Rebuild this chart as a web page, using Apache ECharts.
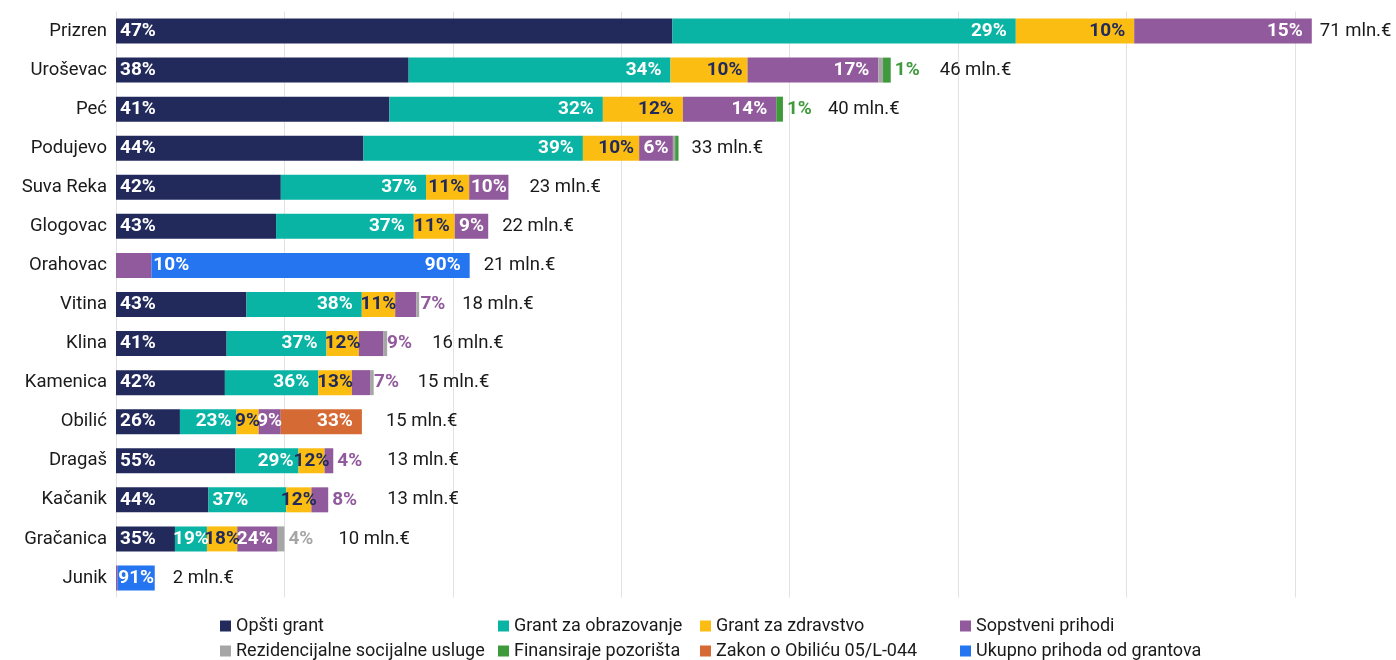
<!DOCTYPE html>
<html>
<head>
<meta charset="utf-8">
<script src="https://cdn.jsdelivr.net/npm/echarts@6/dist/echarts.min.js"></script>
<style>
html,body{margin:0;padding:0;background:#fff;}
#chart{width:1396px;height:660px;}
</style>
</head>
<body>
<div id="chart"></div>
<script>
// ---- DATA ----
const categories = ['Prizren','Uroševac','Peć','Podujevo','Suva Reka','Glogovac','Orahovac','Vitina','Klina','Kamenica','Obilić','Dragaš','Kačanik','Gračanica','Junik'];
const totals = [71.0, 46.0, 39.6, 33.4, 23.3, 22.1, 21.0, 18.0, 16.1, 15.3, 14.6, 12.9, 12.6, 10.0, 2.3]; // mln €
// shares in percent
const opstiGrant       = [47, 38, 41, 44, 42, 43, null, 43, 41, 42, 26, 55, 44, 35, null];
const grantObrazovanje = [29, 34, 32, 39, 37, 37, null, 38, 37, 36, 23, 29, 37, 19, null];
const grantZdravstvo   = [10, 10, 12, 10, 11, 11, null, 11, 12, 13, 9, 12, 12, 18, null];
const sopstveniPrihodi = [15, 17, 14, 6, 10, 9, 10, 7, 9, 7, 9, 4, 8, 24, 4];
const rezidencijalne   = [null, 0.6, null, 0.4, null, null, null, 0.9, 1.5, 1.4, null, null, null, 4, null];
const pozoriste        = [null, 1, 1, 0.6, null, null, null, null, null, null, null, null, null, null, null];
const zakonObilic      = [null, null, null, null, null, null, null, null, null, null, 33, null, null, null, null];
const ukupnoGrantovi   = [null, null, null, null, null, null, 90, null, null, null, null, null, null, null, 91];

// ---- STYLE ----
const seriesDefs = [
  {key:'opsti',  name:'Opšti grant',                  data:opstiGrant,       color:'#222a5c', text:'#ffffff', pos:'insideLeft'},
  {key:'obraz',  name:'Grant za obrazovanje',         data:grantObrazovanje, color:'#0ab4a4', text:'#ffffff', pos:'insideRight'},
  {key:'zdrav',  name:'Grant za zdravstvo',           data:grantZdravstvo,   color:'#fcbd12', text:'#222a5c', pos:'insideRight'},
  {key:'sopst',  name:'Sopstveni prihodi',            data:sopstveniPrihodi, color:'#915a9c', text:'#ffffff', pos:'insideRight'},
  {key:'rezid',  name:'Rezidencijalne socijalne usluge', data:rezidencijalne, color:'#a6a6a6', text:'#ffffff', pos:'insideRight'},
  {key:'pozor',  name:'Finansiraje pozorišta',        data:pozoriste,        color:'#3f9a3c', text:'#ffffff', pos:'insideRight'},
  {key:'obilic', name:'Zakon o Obiliću 05/L-044',     data:zakonObilic,      color:'#d66a34', text:'#ffffff', pos:'insideRight'},
  {key:'ukupno', name:'Ukupno prihoda od grantova',   data:ukupnoGrantovi,   color:'#2675f0', text:'#ffffff', pos:'insideRight'}
];
const labelOverrides = {
  'pozor|1':'out','pozor|2':'out','pozor|3':'hide',
  'rezid|1':'hide','rezid|3':'hide','rezid|7':'hide','rezid|8':'hide','rezid|9':'hide','rezid|13':'out',
  'sopst|6':'rightWhite','sopst|7':'out','sopst|8':'out','sopst|9':'out','sopst|11':'out','sopst|12':'out','sopst|14':'hide',
  'obraz|12':'insideLeft'
};
const totalGap = [8, 49, 45, 13, 21, 14, 14, 43, 45, 44, 24, 54, 59, 54, 18];
const axisMax = 76;
const plotWidth = 1281;
const pxPerMln = plotWidth / axisMax;

const pctFont = 'Roboto';
const txtFont = 'Roboto';

const rowSums = categories.map((c, i) => seriesDefs.reduce((s, d) => s + (d.data[i] || 0), 0));

const series = seriesDefs.map(d => ({
  name: d.name,
  type: 'bar',
  stack: 'total',
  barWidth: 25,
  itemStyle: {color: d.color},
  emphasis: {disabled: true},
  data: d.data.map((p, i) => {
    if (p == null) return {value: 0, pct: null, label: {show: false}};
    const v = totals[i] * p / rowSums[i];
    const w = v * pxPerMln;
    const mode = labelOverrides[d.key + '|' + i] || 'default';
    let label;
    if (mode === 'hide') label = {show: false};
    else if (mode === 'out') label = {show: true, position: 'right', distance: 4, color: d.color};
    else if (mode === 'rightWhite') label = {show: true, position: 'right', distance: 2, color: '#ffffff'};
    else if (mode === 'insideLeft') label = {show: true, position: 'insideLeft', distance: 4, color: d.text};
    else if (w < 40) label = {show: true, position: 'inside', color: d.text};
    else if (d.pos === 'insideLeft') label = {show: true, position: 'insideLeft', distance: 4, color: d.text};
    else label = {show: true, position: 'insideRight', distance: w > 80 ? 9 : 5, color: d.text};
    return {value: v, pct: p, label: label};
  }),
  label: {
    fontFamily: pctFont, fontWeight: 'bold', fontSize: 19,
    formatter: params => params.data.pct == null ? '' : Math.round(params.data.pct) + '%'
  }
}));

series.push({
  name: 'total',
  type: 'bar',
  barWidth: 25,
  barGap: '-100%',
  z: 1,
  silent: true,
  itemStyle: {color: 'rgba(0,0,0,0)'},
  data: totals.map((t, i) => ({
    value: t,
    label: {show: true, position: 'right', distance: totalGap[i]}
  })),
  label: {
    color: '#1a1a1a', fontFamily: txtFont, fontSize: 18.5,
    formatter: p => Math.round(p.value) + ' mln.€'
  }
});

const legendCols = [
  {left: 220, names: ['Opšti grant', 'Rezidencijalne socijalne usluge']},
  {left: 498, names: ['Grant za obrazovanje', 'Finansiraje pozorišta']},
  {left: 700, names: ['Grant za zdravstvo', 'Zakon o Obiliću 05/L-044']},
  {left: 960, names: ['Sopstveni prihodi', 'Ukupno prihoda od grantova']}
];

const option = {
  animation: false,
  backgroundColor: '#ffffff',
  grid: {left: 116, top: 11.5, bottom: 62.5, right: 1396 - 116 - plotWidth, containLabel: false},
  xAxis: {
    type: 'value', min: 0, max: axisMax, interval: 10,
    axisLabel: {show: false}, axisLine: {show: false}, axisTick: {show: false},
    splitLine: {show: true, lineStyle: {color: '#e2e2e2', width: 1}}
  },
  yAxis: {
    type: 'category', data: categories, inverse: true,
    axisLine: {show: false}, axisTick: {show: false},
    axisLabel: {color: '#1a1a1a', fontFamily: txtFont, fontSize: 18.5, margin: 9}
  },
  legend: legendCols.map(c => ({
    data: c.names.map(n => ({name: n, icon: 'rect'})),
    orient: 'vertical', left: c.left, top: 617,
    itemWidth: 11, itemHeight: 11, itemGap: 7, padding: 0,
    selectedMode: false,
    textStyle: {color: '#1a1a1a', fontFamily: txtFont, fontSize: 18}
  })),
  series: series
};

const chart = echarts.init(document.getElementById('chart'), null, {renderer: 'canvas'});
chart.setOption(option);
</script>
</body>
</html>
